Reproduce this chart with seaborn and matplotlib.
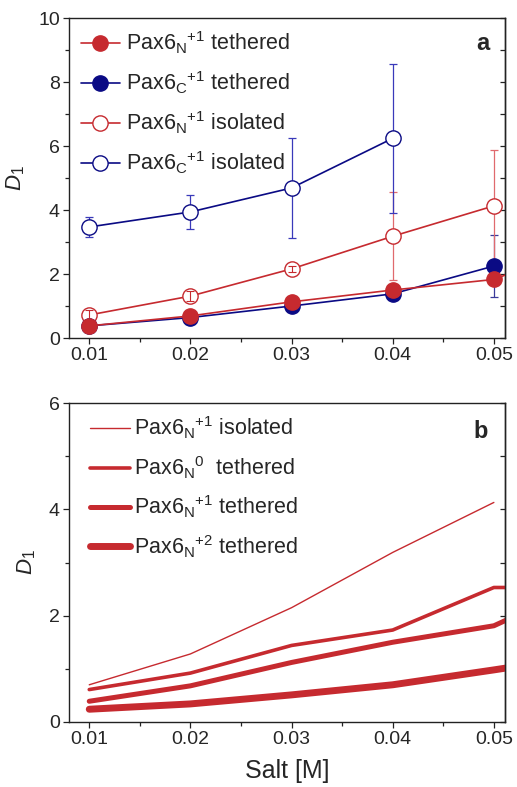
import numpy as np
import pandas as pd
import matplotlib
matplotlib.use('Agg')
import matplotlib.pyplot as plt
import seaborn as sns
from matplotlib.ticker import MultipleLocator, NullFormatter
from matplotlib.lines import Line2D

# salt concentrations; 0.06 only feeds the segments clipped at the right edge
salt = [0.01, 0.02, 0.03, 0.04, 0.05]
salt_ext = [0.01, 0.02, 0.03, 0.04, 0.05, 0.06]

# panel a
n_teth = [0.38, 0.69, 1.13, 1.50, 1.83, 3.06]
c_teth = [0.38, 0.64, 1.00, 1.38, 2.25]
c_teth_err = [0.0, 0.0, 0.0, 0.0, 0.97]
n_iso = [0.72, 1.31, 2.16, 3.18, 4.13]
n_iso_err = [0.15, 0.15, 0.10, 1.38, 1.74]
c_iso_salt = [0.01, 0.02, 0.03, 0.04]
c_iso = [3.47, 3.94, 4.69, 6.24]
c_iso_err = [0.30, 0.53, 1.57, 2.32]

# panel b
b_iso = [0.70, 1.28, 2.15, 3.19, 4.13]
b_n0 = [0.61, 0.92, 1.44, 1.73, 2.53, 2.53]
b_n1 = [0.39, 0.68, 1.12, 1.50, 1.81, 2.68]
b_n2 = [0.24, 0.34, 0.51, 0.70, 0.98, 1.27]

RED = '#C62A2F'
BLUE = '#0A0A84'

sns.set_style('ticks')
plt.rcParams['font.family'] = ['Liberation Sans', 'DejaVu Sans']
plt.rcParams['mathtext.fontset'] = 'custom'
plt.rcParams['mathtext.rm'] = 'Liberation Sans'
plt.rcParams['mathtext.it'] = 'Liberation Sans:italic'
plt.rcParams['mathtext.bf'] = 'Liberation Sans:bold'

fig = plt.figure(figsize=(5.17, 7.87), dpi=100)
ax1 = fig.add_axes([0.1335, 0.5705, 0.8433, 0.4066])
ax2 = fig.add_axes([0.1335, 0.0826, 0.8433, 0.4053])


def style_axes(ax, ymax, ymajor):
    ax.set_xlim(0.008, 0.0511)
    ax.set_ylim(0, ymax)
    ax.xaxis.set_major_locator(MultipleLocator(0.01))
    ax.xaxis.set_minor_locator(MultipleLocator(0.005))
    ax.yaxis.set_major_locator(MultipleLocator(ymajor))
    ax.yaxis.set_minor_locator(MultipleLocator(ymajor / 2))
    ax.set_xticks(salt)
    ax.set_xticklabels(['0.01', '0.02', '0.03', '0.04', '0.05'])
    for s in ax.spines.values():
        s.set_visible(True)
        s.set_linewidth(1.0)
        s.set_color('#222222')
    ax.tick_params(which='both', direction='out', labelsize=14, pad=2,
                   color='#222222', width=0.9, right=False, top=False)
    ax.tick_params(which='major', length=4.5)
    ax.tick_params(which='minor', length=3)
    # right side ticks point inward
    sec = ax.secondary_yaxis('right')
    sec.yaxis.set_major_locator(MultipleLocator(ymajor))
    sec.yaxis.set_minor_locator(MultipleLocator(ymajor / 2))
    sec.yaxis.set_major_formatter(NullFormatter())
    sec.tick_params(which='both', direction='in', length=3.5, width=0.9,
                    color='#222222')
    sec.spines['right'].set_linewidth(1.0)
    sec.spines['right'].set_color('#222222')
    ax.set_ylabel(r'$\mathit{D}_\mathit{1}$', fontsize=16, labelpad=8)


def pax(sub, sup, rest):
    return 'Pax6$_\\mathregular{' + sub + '}$$^\\mathregular{' + sup + '}$ ' + rest


# ---- panel a ----
ax1.errorbar(salt, c_teth, yerr=c_teth_err, fmt='none', ecolor='#3A3A9A',
             elinewidth=0.9, capsize=3, capthick=0.9, zorder=1)
ax1.errorbar(salt[3:], n_iso[3:], yerr=n_iso_err[3:], fmt='none', ecolor='#E06A6E',
             elinewidth=0.9, capsize=3, capthick=0.9, zorder=1)
ax1.errorbar(salt[:3], n_iso[:3], yerr=n_iso_err[:3], fmt='none', ecolor=RED,
             elinewidth=0.8, capsize=3, capthick=0.8, zorder=3.5)
ax1.errorbar(c_iso_salt, c_iso, yerr=c_iso_err, fmt='none', ecolor='#3A3ABA',
             elinewidth=0.9, capsize=3, capthick=0.9, zorder=1)

sns.lineplot(x=c_iso_salt, y=c_iso, ax=ax1, color=BLUE, lw=1.2, marker='o',
             markersize=11, markerfacecolor='white', markeredgecolor=BLUE,
             markeredgewidth=1.0, zorder=3)
sns.lineplot(x=salt, y=n_iso, ax=ax1, color=RED, lw=1.2, marker='o',
             markersize=11, markerfacecolor='white', markeredgecolor=RED,
             markeredgewidth=1.0, zorder=3)
sns.lineplot(x=salt, y=c_teth, ax=ax1, color=BLUE, lw=1.2, marker='o',
             markersize=11, markeredgecolor=BLUE, markeredgewidth=1.0, zorder=4)
sns.lineplot(x=salt_ext, y=n_teth, ax=ax1, color=RED, lw=1.2, marker='o',
             markersize=11, markeredgecolor=RED, markeredgewidth=1.0, zorder=5)

h_a = [
    Line2D([], [], color=RED, lw=1.2, marker='o', markersize=11,
           markerfacecolor=RED, markeredgecolor=RED),
    Line2D([], [], color=BLUE, lw=1.2, marker='o', markersize=11,
           markerfacecolor=BLUE, markeredgecolor=BLUE),
    Line2D([], [], color=RED, lw=1.2, marker='o', markersize=11,
           markerfacecolor='white', markeredgecolor=RED),
    Line2D([], [], color=BLUE, lw=1.2, marker='o', markersize=11,
           markerfacecolor='white', markeredgecolor=BLUE),
]
lab_a = [pax('N', '+1', 'tethered'), pax('C', '+1', 'tethered'),
         pax('N', '+1', 'isolated'), pax('C', '+1', 'isolated')]
ax1.legend(h_a, lab_a, loc='upper left', frameon=False, fontsize=15.5,
           handlelength=1.8, handletextpad=0.3, labelspacing=0.62,
           borderaxespad=0.15, bbox_to_anchor=(0.0, 1.0))
ax1.text(0.965, 0.92, 'a', transform=ax1.transAxes, fontsize=17,
         fontweight='bold', ha='right', va='center')

style_axes(ax1, 10, 2)
ax1.set_xlabel('')

# ---- panel b ----
sns.lineplot(x=salt, y=b_iso, ax=ax2, color=RED, lw=1.0)
sns.lineplot(x=salt_ext, y=b_n0, ax=ax2, color=RED, lw=2.6)
sns.lineplot(x=salt_ext, y=b_n1, ax=ax2, color=RED, lw=3.6)
sns.lineplot(x=salt_ext, y=b_n2, ax=ax2, color=RED, lw=5.0)

h_b = [Line2D([], [], color=RED, lw=w, solid_capstyle='round')
       for w in (1.0, 2.6, 3.6, 5.0)]
lab_b = [pax('N', '+1', 'isolated'), pax('N', '0', ' tethered'),
         pax('N', '+1', 'tethered'), pax('N', '+2', 'tethered')]
ax2.legend(h_b, lab_b, loc='upper left', frameon=False, fontsize=15.5,
           handlelength=1.9, handletextpad=0.15, labelspacing=0.6,
           borderaxespad=0.15, bbox_to_anchor=(0.02, 1.0))
ax2.text(0.96, 0.91, 'b', transform=ax2.transAxes, fontsize=17,
         fontweight='bold', ha='right', va='center')

style_axes(ax2, 6, 2)
ax2.set_xlabel('Salt [M]', fontsize=18, labelpad=8)

fig.savefig('out.png', dpi=100)
